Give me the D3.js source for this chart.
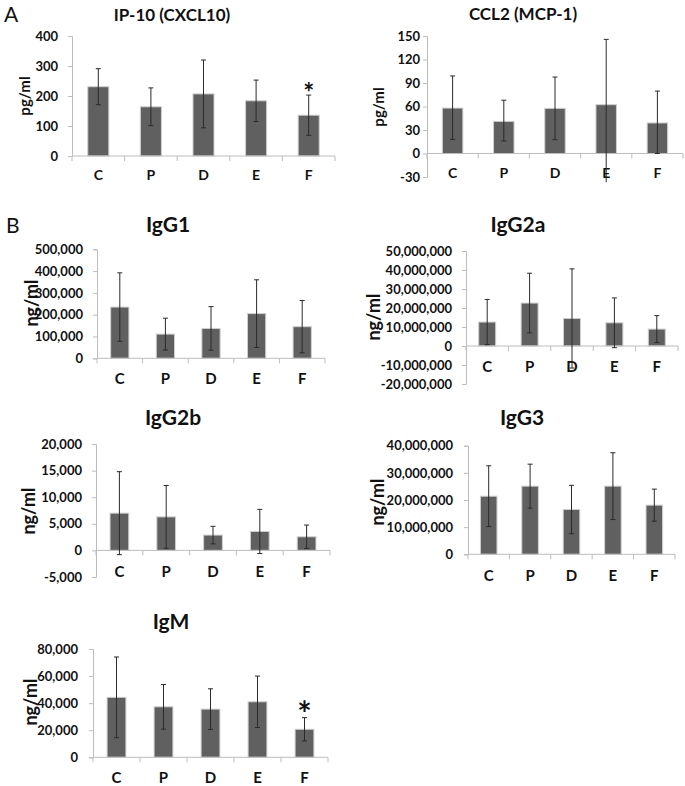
<!DOCTYPE html>
<html><head><meta charset="utf-8">
<script src="https://cdn.jsdelivr.net/npm/d3@7"></script>
<style>
body{margin:0;background:#fff;}
svg{display:block;font-family:Lato,"Open Sans",Arial,sans-serif;}
</style></head>
<body><svg id="chart" width="685" height="786"></svg>
<script>
const categories = ["C","P","D","E","F"];

const ip10Mean = [231,164,207,184,136];
const ip10Err  = [60,63,113,69,67];
const ip10Ticks = [0,100,200,300,400];

const ccl2Mean  = [58,41,57.6,62.3,39];
const ccl2ErrHi = [41,27,40,83.4,40.7];
const ccl2ErrLo = [40,25,40,99,39];
const ccl2Ticks = [-30,0,30,60,90,120,150];

const igg1Mean = [235000,111000,137000,205000,145000];
const igg1Err  = [157000,73000,100000,155000,120000];
const igg1Ticks = [0,100000,200000,300000,400000,500000];

const igg2aMean = [12600000,22600000,14500000,12200000,8900000];
const igg2aErr  = [11900000,15700000,26100000,13100000,7100000];
const igg2aTicks = [-20000000,-10000000,0,10000000,20000000,30000000,40000000,50000000];

const igg2bMean = [7000,6300,2880,3560,2560];
const igg2bErr  = [7800,5900,1650,4150,2200];
const igg2bTicks = [-5000,0,5000,10000,15000,20000];

const igg3Mean = [21400000,25100000,16500000,25100000,18100000];
const igg3Err  = [11200000,8100000,8900000,12300000,5900000];
const igg3Ticks = [0,10000000,20000000,30000000,40000000];

const igmMean = [44300,37300,35600,41000,20700];
const igmErr  = [29800,16500,15000,19000,8600];
const igmTicks = [0,20000,40000,60000,80000];

const fmt = d3.formatLocale({decimal:".",thousands:",",grouping:[3],currency:["",""],minus:"-"}).format(",");

const svg = d3.select("#chart");

const panels = [
  {title:"IP-10 (CXCL10)", unit:"pg/ml", mean:ip10Mean, hi:ip10Err, lo:ip10Err, ticks:ip10Ticks, star:4,
   x0:72,x1:335, yTop:36, yBot:156, tx:172, ty:21, tsize:17, ux:24, uy:96, usize:15, tick:13, gap:14, cat:14, catOff:24, starSize:26, starGap:9},
  {title:"CCL2 (MCP-1)", unit:"pg/ml", mean:ccl2Mean, hi:ccl2ErrHi, lo:ccl2ErrLo, ticks:ccl2Ticks,
   x0:427,x1:683, yTop:36, yBot:177, tx:523, ty:20, tsize:17, ux:378, uy:107, usize:15, tick:13, gap:7, cat:14, catOff:24},
  {title:"IgG1", unit:"ng/ml", mean:igg1Mean, hi:igg1Err, lo:igg1Err, ticks:igg1Ticks,
   x0:97,x1:325, yTop:249.3, yBot:358.3, tx:168, ty:232, tsize:21, ux:31, uy:303, usize:18, tick:13, gap:14, cat:15, catOff:26},
  {title:"IgG2a", unit:"ng/ml", mean:igg2aMean, hi:igg2aErr, lo:igg2aErr, ticks:igg2aTicks,
   x0:466,x1:678, yTop:251, yBot:384, tx:518, ty:232, tsize:21, ux:373, uy:317, usize:18, tick:13, gap:14, cat:15, catOff:26},
  {title:"IgG2b", unit:"ng/ml", mean:igg2bMean, hi:igg2bErr, lo:igg2bErr, ticks:igg2bTicks,
   x0:96,x1:330, yTop:444, yBot:577, tx:173, ty:425, tsize:21, ux:28, uy:511, usize:18, tick:13, gap:14, cat:15, catOff:27},
  {title:"IgG3", unit:"ng/ml", mean:igg3Mean, hi:igg3Err, lo:igg3Err, ticks:igg3Ticks,
   x0:468,x1:675, yTop:445.7, yBot:554.3, tx:522, ty:425, tsize:21, ux:377, uy:502, usize:18, tick:13, gap:15, cat:15, catOff:27},
  {title:"IgM", unit:"ng/ml", mean:igmMean, hi:igmErr, lo:igmErr, ticks:igmTicks, star:4,
   x0:93,x1:328, yTop:649, yBot:757.3, tx:171, ty:629, tsize:21, ux:30, uy:702, usize:18, tick:13, gap:15, cat:15, catOff:26, starSize:34, starGap:12.5}
];

const axisCol = "#bdbdbd";
const errCol = "#2a2a2a";

panels.forEach(p => {
  const g = svg.append("g");
  const tmin = d3.min(p.ticks), tmax = d3.max(p.ticks);
  const y = d3.scaleLinear().domain([tmin,tmax]).range([p.yBot,p.yTop]);
  const x = d3.scaleBand().domain(categories).range([p.x0,p.x1]).paddingInner(0.6).paddingOuter(0.3);
  const xb = d3.scaleBand().domain(categories).range([p.x0,p.x1]);
  const y0 = y(0);
  const rows = categories.map((c,i)=>({cat:c, mean:p.mean[i], hi:p.mean[i]+p.hi[i], lo:p.mean[i]-p.lo[i]}));
  const cx = d => x(d.cat) + x.bandwidth()/2;

  // y axis
  const ya = g.append("g").attr("transform",`translate(${p.x0},0)`)
    .call(d3.axisLeft(y).tickValues(p.ticks).tickFormat(fmt).tickSize(4).tickPadding(p.gap-4));
  ya.select(".domain").attr("stroke",axisCol);
  ya.selectAll(".tick line").attr("stroke",axisCol);
  ya.selectAll(".tick text").attr("font-family","Lato,Arial,sans-serif").attr("font-weight","bold")
    .attr("font-size",p.tick).attr("fill","#111");

  // bars
  g.selectAll("rect.bar").data(rows).join("rect")
    .attr("x",d=>x(d.cat))
    .attr("width",x.bandwidth())
    .attr("y",d=>Math.min(y(d.mean),y0))
    .attr("height",d=>Math.abs(y0-y(d.mean)))
    .attr("fill","#606060").attr("stroke","#cfcfcf").attr("stroke-width",1);

  // x axis line and ticks at band boundaries
  g.append("line").attr("x1",p.x0).attr("x2",p.x1).attr("y1",y0).attr("y2",y0).attr("stroke",axisCol);
  const bounds = categories.map(c=>xb(c)).concat([p.x1]);
  g.selectAll("line.xt").data(bounds).join("line")
    .attr("x1",d=>d).attr("x2",d=>d).attr("y1",y0).attr("y2",y0+5).attr("stroke",axisCol);

  // error bars
  g.selectAll("line.ev").data(rows).join("line")
    .attr("x1",cx).attr("x2",cx)
    .attr("y1",d=>y(d.hi)).attr("y2",d=>y(d.lo))
    .attr("stroke",errCol).attr("stroke-width",1);
  g.selectAll("line.eh").data(rows).join("line")
    .attr("x1",d=>cx(d)-2.5).attr("x2",d=>cx(d)+2.5)
    .attr("y1",d=>y(d.hi)).attr("y2",d=>y(d.hi))
    .attr("stroke",errCol).attr("stroke-width",1);
  g.selectAll("line.el").data(rows.filter(d=>d.lo>=tmin)).join("line")
    .attr("x1",d=>cx(d)-2.5).attr("x2",d=>cx(d)+2.5)
    .attr("y1",d=>y(d.lo)).attr("y2",d=>y(d.lo))
    .attr("stroke",errCol).attr("stroke-width",1);

  // category labels
  g.selectAll("text.cat").data(categories).join("text")
    .attr("x",d=>x(d)+x.bandwidth()/2).attr("y",y0+p.catOff)
    .attr("text-anchor","middle").attr("font-weight","bold").attr("font-size",p.cat).attr("fill","#111")
    .text(d=>d);

  // title
  g.append("text").attr("x",p.tx).attr("y",p.ty).attr("text-anchor","middle")
    .attr("font-weight","bold").attr("font-size",p.tsize).attr("fill","#111").text(p.title);

  // unit label
  g.append("text").attr("transform",`translate(${p.ux},${p.uy}) rotate(-90)`)
    .attr("text-anchor","middle").attr("dominant-baseline","central")
    .attr("font-weight","bold").attr("font-size",p.usize).attr("fill","#111").text(p.unit);

  // significance star
  if (p.star !== undefined) {
    const d = rows[p.star];
    const centre = y(d.hi) - p.starGap;
    g.append("text").attr("x",cx(d)).attr("y",centre + 0.615*p.starSize).attr("text-anchor","middle")
      .attr("font-weight","bold").attr("font-size",p.starSize).attr("fill","#111").text("*");
  }
});

svg.append("text").attr("x",4).attr("y",22).attr("font-size",21).attr("fill","#111").text("A");
svg.append("text").attr("x",6).attr("y",233).attr("font-size",21).attr("fill","#111").text("B");
</script>
</body></html>
